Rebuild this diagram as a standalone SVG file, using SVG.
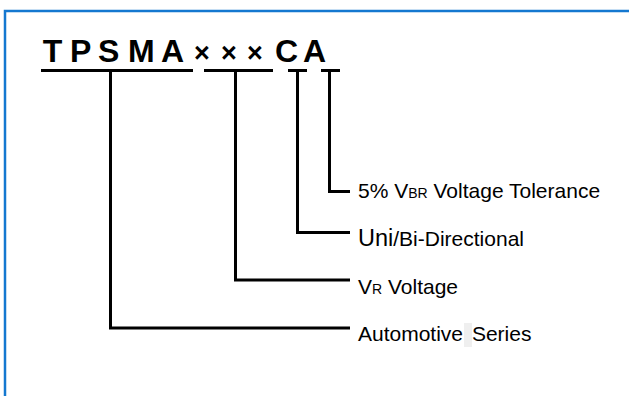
<svg xmlns="http://www.w3.org/2000/svg" width="629" height="396" viewBox="0 0 629 396">
<style>
.frame{fill:none;stroke:#1478d0;stroke-width:2.5}
.title{font-family:"Liberation Sans",Arial,sans-serif;font-weight:bold;font-size:32px;fill:#000}
.x{font-size:27px}
.lbl{font-family:"Liberation Sans",Arial,sans-serif;font-size:21px;fill:#000}
.sub{font-size:14px}
.big{font-size:23.5px}
.conn{fill:none;stroke:#000;stroke-width:3;stroke-linecap:butt;stroke-linejoin:miter}
</style>
<rect width="629" height="396" fill="#fff"/>
<rect class="frame" x="5" y="11" width="700" height="500"/>
<g id="title">
<text class="title" y="62"><tspan x="42.7">T</tspan><tspan x="70">P</tspan><tspan x="98">S</tspan><tspan x="128">M</tspan><tspan x="161">A</tspan><tspan class="x" x="194">×</tspan><tspan class="x" x="221">×</tspan><tspan class="x" x="247">×</tspan><tspan x="275">C</tspan><tspan x="303">A</tspan></text>
</g>
<g id="connectors">
<path class="conn" d="M41 70.5H193M204 70.5H273M288 70.5H307M321 70.5H340"/>
<path class="conn" d="M110.5 70.5V328H350"/>
<path class="conn" d="M235.5 70.5V280H350"/>
<path class="conn" d="M297.5 70.5V232.5H350"/>
<path class="conn" d="M329.5 70.5V191.5H350"/>
</g>
<g id="tolerance">
<text class="lbl" x="358" y="197.5">5% V<tspan class="sub">BR</tspan> Voltage Tolerance</text>
</g>
<g id="direction">
<text class="lbl" x="358" y="246"><tspan class="big">Uni</tspan>/Bi-Directional</text>
</g>
<g id="voltage">
<text class="lbl" x="358" y="293.5">V<tspan class="sub">R</tspan> Voltage</text>
</g>
<g id="series">
<rect x="464" y="323" width="8" height="24" fill="#efefef"/>
<text class="lbl" x="358" y="341">Automotive<tspan dx="3"> </tspan>Series</text>
</g>
</svg>
